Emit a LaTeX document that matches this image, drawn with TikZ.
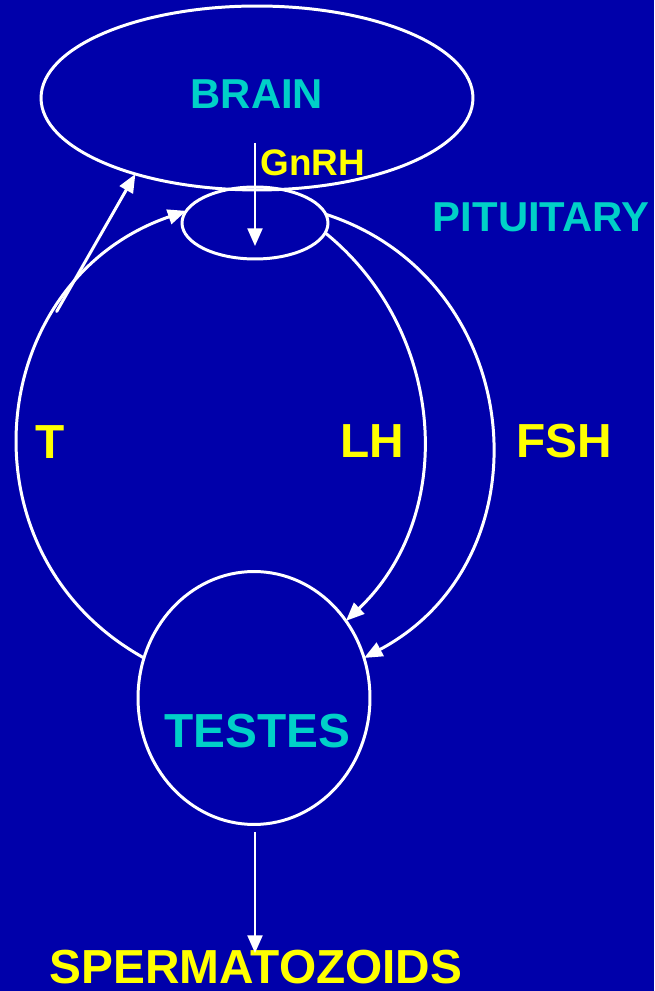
\documentclass[tikz,border=0pt]{standalone}
\usepackage{fontspec}
\setmainfont{Liberation Sans}
\usetikzlibrary{shapes.geometric,arrows.meta}
\definecolor{bgblue}{RGB}{0,0,170}
\definecolor{labcyan}{RGB}{0,208,200}
\definecolor{labyellow}{RGB}{255,255,0}
\tikzset{
  organ/.style={draw=white, line width=1.7pt, ellipse, inner sep=0pt, outer sep=0pt},
  link/.style={draw=white, line width=1.7pt, -{Triangle[length=10.5pt,width=8.5pt]}},
  thinlink/.style={draw=white, line width=1.2pt, -{Triangle[length=10pt,width=8.5pt]}},
  organlabel/.style={text=labcyan, font=\fontsize{23.8}{26}\selectfont\bfseries, anchor=base, inner sep=0pt},
  bigorganlabel/.style={text=labcyan, font=\fontsize{27.2}{30}\selectfont\bfseries, anchor=base, inner sep=0pt},
  hormone/.style={text=labyellow, font=\fontsize{27.2}{30}\selectfont\bfseries, anchor=base, inner sep=0pt},
  smallhormone/.style={text=labyellow, font=\fontsize{21}{24}\selectfont\bfseries, anchor=base, inner sep=0pt}
}
\begin{document}
\begin{tikzpicture}[x=0.02cm,y=0.02cm]
\useasboundingbox (0,0) rectangle (654,991);
\fill[bgblue] (0,0) rectangle (654,991);

% shapes
\node[organ, minimum width=8.64cm, minimum height=3.68cm] (brain) at (257,893) {};
\node[organ, minimum width=2.92cm, minimum height=1.44cm] (pit) at (255,768) {};
\node[organ, minimum width=4.64cm, minimum height=5.06cm] (tst) at (254,293) {};

% labels
\node[organlabel] (lbrain) at (257,882) {BRAIN};
\node[organlabel] (lpit) at (541,759) {PITUITARY};
\node[bigorganlabel] (ltst) at (257,243) {TESTES};
\node[smallhormone] (lgnrh) at (313,815) {GnRH};
\node[hormone] (lt) at (50,532) {T};
\node[hormone] (llh) at (372,533) {LH};
\node[hormone] (lfsh) at (564,533) {FSH};
\node[hormone] (lspz) at (256,8) {SPERMATOZOIDS};

% coordinates for free ends
\coordinate (g1) at (255,848);
\coordinate (g2) at (255,745);
\coordinate (s1) at (255,159);
\coordinate (s2) at (255,38);

% connectors
\draw[thinlink] (g1) -- (g2);
\draw[thinlink] (s1) -- (s2);
\draw[link] (tst.160) to[out=151,in=199,looseness=1.22] coordinate[pos=0.715] (tb) (pit.170);
\draw[link, line cap=round] (tb) -- (brain.212);
\draw[link] (pit.-8) to[out=-39,in=43.5,looseness=1.02] (tst.40);
\draw[link] (pit.7) to[out=-18,in=28,looseness=1.22] (tst.20);
\end{tikzpicture}
\end{document}
